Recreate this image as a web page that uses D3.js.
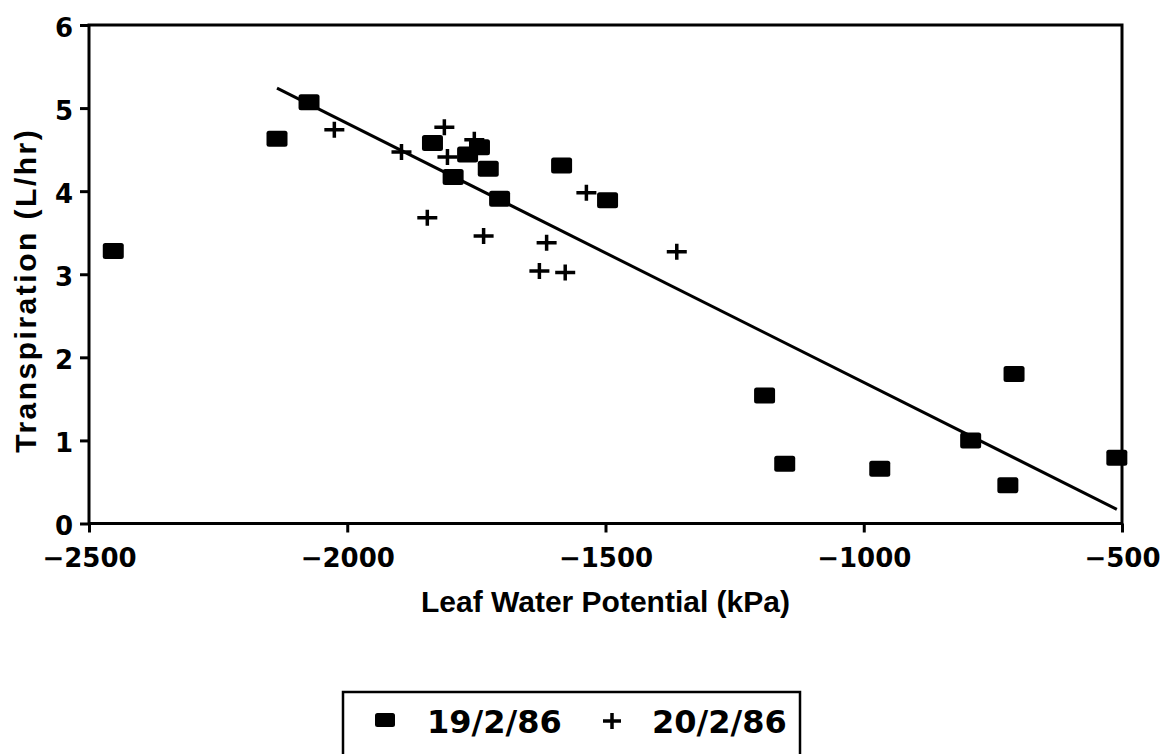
<!DOCTYPE html>
<html>
<head>
<meta charset="utf-8">
<script src="https://cdn.jsdelivr.net/npm/d3@7"></script>
<style>
  html, body { margin: 0; padding: 0; background: #fff; }
  svg { display: block; }
  .tick text { font-family: "DejaVu Sans", sans-serif; font-weight: bold; }
</style>
</head>
<body>
<div id="chart"></div>
<script>
// 19/2/86 readings (squares)
const day1Psi = [-2453, -2136, -2074, -1835, -1767, -1744, -1727, -1795, -1705, -1585, -1496,
                 -1192, -1153, -969, -793, -709, -721, -510];
const day1Trans = [3.28, 4.63, 5.07, 4.58, 4.44, 4.53, 4.27, 4.17, 3.91, 4.31, 3.89,
                   1.54, 0.72, 0.66, 1.00, 1.80, 0.46, 0.79];

// 20/2/86 readings (crosses)
const day2Psi = [-2025, -1895, -1812, -1806, -1754, -1845, -1736, -1614, -1628, -1578, -1537, -1362];
const day2Trans = [4.74, 4.47, 4.77, 4.41, 4.62, 3.68, 3.46, 3.38, 3.04, 3.02, 3.98, 3.27];

// fitted line
const fitSlope = -0.003118;
const fitIntercept = -1.42;
const fitRange = [-2136, -510];

const xTicks = [-2500, -2000, -1500, -1000, -500];
const yTicks = [0, 1, 2, 3, 4, 5, 6];
const legendLabels = ["19/2/86", "20/2/86"];

const W = 1160, H = 754;
const margin = { top: 25, right: 38, bottom: 230, left: 89 };

const svg = d3.select("#chart").append("svg")
    .attr("width", W)
    .attr("height", H);

const x = d3.scaleLinear().domain([-2500, -500]).range([margin.left, W - margin.right]);
const y = d3.scaleLinear().domain([0, 6]).range([H - margin.bottom - 0.5, margin.top]);

// frame
svg.append("rect")
    .attr("x", x(-2500))
    .attr("y", y(6))
    .attr("width", x(-500) - x(-2500))
    .attr("height", y(0) - y(6))
    .attr("fill", "none")
    .attr("stroke", "#000")
    .attr("stroke-width", 3);

const xAxis = svg.append("g")
    .attr("transform", `translate(0,${y(0)})`)
    .call(d3.axisBottom(x).tickValues(xTicks).tickSize(9).tickSizeOuter(0).tickFormat(d3.format("d")));
xAxis.select(".domain").remove();
xAxis.selectAll(".tick line").attr("stroke-width", 3);
xAxis.selectAll(".tick text")
    .attr("font-size", 26)
    .attr("y", 21)
    .attr("dy", "0.85em")
    .attr("fill", "#000");

const yAxis = svg.append("g")
    .attr("transform", `translate(${x(-2500)},0)`)
    .call(d3.axisLeft(y).tickValues(yTicks).tickSize(9).tickSizeOuter(0).tickFormat(d3.format("d")));
yAxis.select(".domain").remove();
yAxis.selectAll(".tick line").attr("stroke-width", 3);
yAxis.selectAll(".tick text")
    .attr("font-size", 26)
    .attr("x", -16)
    .attr("dy", "0.44em")
    .attr("fill", "#000");

// axis titles
svg.append("text")
    .attr("x", (x(-2500) + x(-500)) / 2)
    .attr("y", 612)
    .attr("text-anchor", "middle")
    .attr("font-family", "Liberation Sans, Arial, sans-serif")
    .attr("font-weight", "bold")
    .attr("font-size", 30)
    .text("Leaf Water Potential (kPa)");

svg.append("text")
    .attr("transform", `translate(36,${(y(0) + y(6)) / 2 + 16}) rotate(-90)`)
    .attr("text-anchor", "middle")
    .attr("font-family", "Liberation Sans, Arial, sans-serif")
    .attr("font-weight", "bold")
    .attr("font-size", 30)
    .attr("letter-spacing", 2.5)
    .text("Transpiration (L/hr)");

// regression line
const line = d3.line().x(d => x(d)).y(d => y(fitIntercept + fitSlope * d));
svg.append("path")
    .datum(fitRange)
    .attr("d", line)
    .attr("fill", "none")
    .attr("stroke", "#000")
    .attr("stroke-width", 3);

const day1 = day1Psi.map((v, i) => ({ psi: v, t: day1Trans[i] }));
const day2 = day2Psi.map((v, i) => ({ psi: v, t: day2Trans[i] }));

const sqW = 21, sqH = 16;
svg.selectAll(".sq")
    .data(day1)
    .enter()
    .append("rect")
    .attr("class", "sq")
    .attr("x", d => x(d.psi) - sqW / 2)
    .attr("y", d => y(d.t) - sqH / 2)
    .attr("width", sqW)
    .attr("height", sqH)
    .attr("rx", 2.5)
    .attr("fill", "#000");

const crossPath = "M-10,0H10M0,-8V8";
svg.selectAll(".cross")
    .data(day2)
    .enter()
    .append("path")
    .attr("class", "cross")
    .attr("transform", d => `translate(${x(d.psi)},${y(d.t)})`)
    .attr("d", crossPath)
    .attr("stroke", "#000")
    .attr("stroke-width", 3.5)
    .attr("fill", "none");

// legend
const legend = svg.append("g");
legend.append("rect")
    .attr("x", 343)
    .attr("y", 692)
    .attr("width", 457)
    .attr("height", 100)
    .attr("fill", "none")
    .attr("stroke", "#000")
    .attr("stroke-width", 2.5);

legend.append("rect")
    .attr("x", 375)
    .attr("y", 713)
    .attr("width", 20)
    .attr("height", 14)
    .attr("rx", 2.5)
    .attr("fill", "#000");

legend.append("path")
    .attr("transform", "translate(612,721)")
    .attr("d", "M-9,0H9M0,-8V8")
    .attr("stroke", "#000")
    .attr("stroke-width", 3.5);

legend.selectAll(".ltext")
    .data(legendLabels)
    .enter()
    .append("text")
    .attr("x", (d, i) => i === 0 ? 427 : 652)
    .attr("y", 733)
    .attr("font-family", "DejaVu Sans, sans-serif")
    .attr("font-weight", "bold")
    .attr("font-size", 32)
    .text(d => d);
</script>
</body>
</html>
